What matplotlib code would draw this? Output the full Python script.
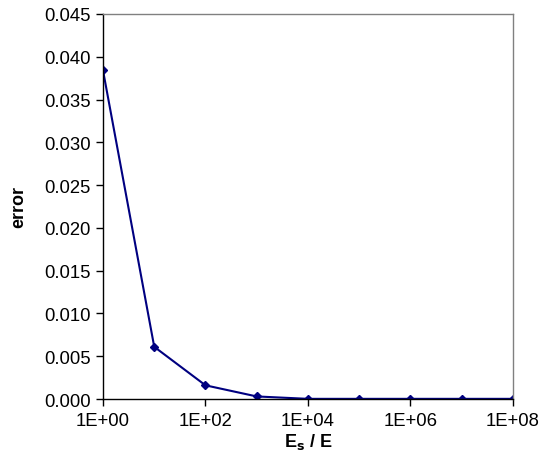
import matplotlib.pyplot as plt
import numpy as np

plt.rcParams["font.family"] = ["Liberation Sans", "DejaVu Sans"]

# stiffness ratio and resulting error
ratio = [1e0, 1e1, 1e2, 1e3, 1e4, 1e5, 1e6, 1e7, 1e8]
error = [0.0384, 0.0061, 0.0016, 0.0003, 0.00002, 0.00002, 0.00002, 0.00002, 0.00002]

x_ticks = [1e0, 1e2, 1e4, 1e6, 1e8]
x_labels = ["1E+00", "1E+02", "1E+04", "1E+06", "1E+08"]
y_ticks = np.arange(0, 0.0451, 0.005)

fig = plt.figure(figsize=(5.41, 4.77), dpi=100)
ax = fig.add_axes([0.1904, 0.1614, 0.948 - 0.1904, 0.9686 - 0.1614])

ax.plot(ratio, error, color="#000080", lw=1.5, marker="D", ms=4)

ax.set_xscale("log")
ax.set_xlim(1e0, 1e8)
ax.set_ylim(0, 0.045)
ax.set_xticks(x_ticks)
ax.set_xticklabels(x_labels)
ax.xaxis.set_minor_locator(plt.NullLocator())
ax.set_yticks(y_ticks)
ax.set_yticklabels([f"{v:.3f}" for v in y_ticks])

ax.tick_params(direction="out", length=5, width=1, labelsize=13.3, pad=4)
for side in ("top", "right"):
    ax.spines[side].set_color("#808080")
    ax.spines[side].set_linewidth(1)
for side in ("left", "bottom"):
    ax.spines[side].set_color("black")
    ax.spines[side].set_linewidth(1)

ax.set_ylabel("error", fontsize=13, fontweight="bold", va="center")
ax.set_xlabel(r"E$_\mathbf{s}$ / E", fontsize=13, fontweight="bold", va="center")
ax.yaxis.set_label_coords(-0.205, 0.5)
ax.xaxis.set_label_coords(0.5, -0.11)

fig.savefig("out.png", dpi=100)
